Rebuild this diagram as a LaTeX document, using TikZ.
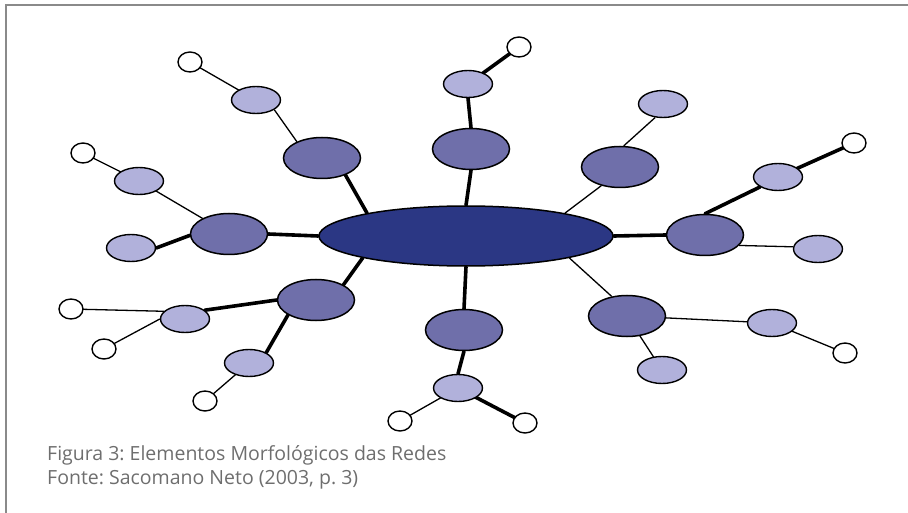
\documentclass[tikz,border=0pt]{standalone}
\usepackage{fontspec}
\setmainfont{Open Sans}
\usepackage{xcolor}
\usetikzlibrary{shapes.geometric, backgrounds}
\frenchspacing

\definecolor{hubblue}{HTML}{2B3784}
\definecolor{midviolet}{HTML}{6F6FAA}
\definecolor{leafviolet}{HTML}{B1B1DB}
\definecolor{framegray}{HTML}{8A8A8A}
\definecolor{captiongray}{HTML}{6E6E6E}

\begin{document}
\begin{tikzpicture}[
    x=1pt, y=-1pt,
    hub/.style  ={ellipse, draw=black, line width=1.5pt, fill=hubblue,
                  minimum width=294pt, minimum height=60pt, inner sep=0pt},
    mid/.style  ={ellipse, draw=black, line width=1.5pt, fill=midviolet,
                  minimum width=77pt, minimum height=41pt, inner sep=0pt},
    leaf/.style ={ellipse, draw=black, line width=1.4pt, fill=leafviolet,
                  minimum width=49pt, minimum height=27pt, inner sep=0pt},
    tip/.style  ={ellipse, draw=black, line width=1.4pt, fill=white,
                  minimum width=24pt, minimum height=20pt, inner sep=0pt},
    strong/.style={line width=3.6pt, line cap=round},
    weak/.style  ={line width=1.3pt},
    caption/.style={anchor=base west, inner sep=0pt, text=captiongray,
                  font=\fontsize{19.5}{24}\selectfont},
]
\useasboundingbox (0,0) rectangle (908,513);

% ---- Frame ----
\draw[framegray, line width=2.5pt] (6,513) -- (6,5) -- (908,5);

% ---- Centre ----
\node[hub] (hub) at (466,236) {};

% ---- First ring ----
\node[mid] (m1) at (322,158) {};
\node[mid] (m2) at (229,234) {};
\node[mid] (m3) at (316,300) {};
\node[mid] (m4) at (471,149) {};
\node[mid] (m5) at (464,330) {};
\node[mid] (m6) at (620,167) {};
\node[mid] (m7) at (705,235) {};
\node[mid] (m8) at (627,316) {};

% ---- Second ring ----
\node[leaf] (l1)  at (256,100) {};
\node[leaf] (l2)  at (139,181) {};
\node[leaf] (l3)  at (131,248) {};
\node[leaf] (l4)  at (185,319) {};
\node[leaf] (l5)  at (249,363) {};
\node[leaf] (l6)  at (468,84)  {};
\node[leaf] (l7)  at (663,104) {};
\node[leaf] (l8)  at (778,177) {};
\node[leaf] (l9)  at (818,249) {};
\node[leaf] (l10) at (772,323) {};
\node[leaf] (l11) at (662,370) {};
\node[leaf] (l12) at (458,388) {};

% ---- Outer tips ----
\node[tip] (w1)  at (190,62)  {};
\node[tip] (w2)  at (83,153)  {};
\node[tip] (w3)  at (71,309)  {};
\node[tip] (w4)  at (104,349) {};
\node[tip] (w5)  at (205,401) {};
\node[tip] (w6)  at (519,47)  {};
\node[tip] (w7)  at (854,143) {};
\node[tip] (w8)  at (845,353) {};
\node[tip] (w9)  at (400,421) {};
\node[tip] (w10) at (525,423) {};

% ---- Ties ----
\begin{pgfonlayer}{background}
\foreach \a/\b in {hub.167/m1.-36, hub.west/m2.east, hub.192/m3.29,
                   hub.north/m4.south, hub.south/m5.north, hub.east/m7.west,
                   l3.0/m2.182, l4.24/m3.west, l5.31/m3.208,
                   l6.south/m4.north, l6.center/w6.center,
                   m7.90/l8.209, l8.center/w7.center,
                   m5.south/l12.north, l12.center/w10.center} {
   \draw[strong] (\a) -- (\b);
}
\foreach \a/\b in {hub.13/m6.225, hub.-12/m8.128,
                   l1.-28/m1.147, l1.center/w1.center,
                   l2.center/m2.center, l2.center/w2.center,
                   l4.160/w3.center, l4.180/w4.center, l5.center/w5.center,
                   m6.80/l7.240, m7.-17/l9.175,
                   m8.center/l10.center, l10.center/w8.center,
                   m8.center/l11.center, l12.center/w9.center} {
   \draw[weak] (\a) -- (\b);
}
\end{pgfonlayer}

% ---- Caption ----
\node[caption] (cap1) at (47,460) {Figura 3: Elementos Morfológicos das Redes};
\node[caption] (cap2) at (47,484) {Fonte: Sacomano Neto (2003, p. 3)};

\end{tikzpicture}
\end{document}
